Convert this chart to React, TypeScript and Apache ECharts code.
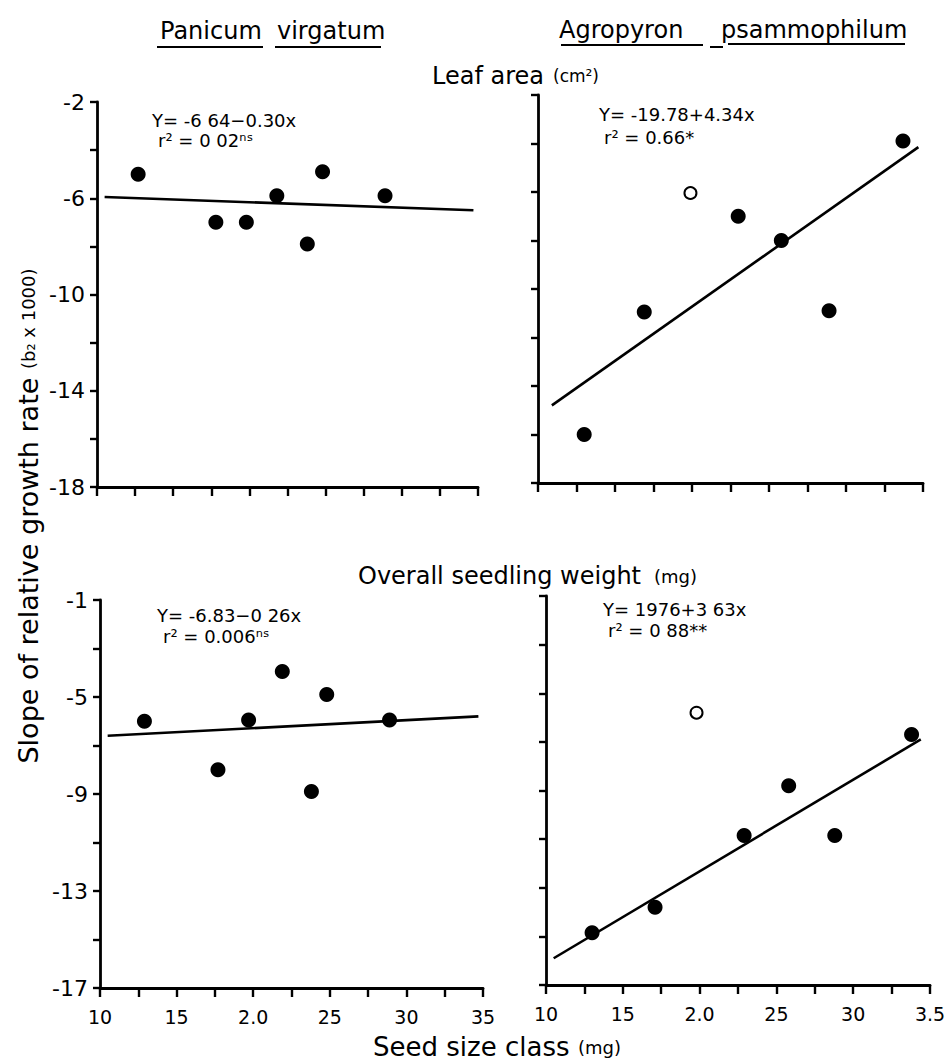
import React, { useEffect, useRef } from "react";
import * as echarts from "echarts";

// ---- axis ticks / labels ----
const xTickValues = [1.0, 1.25, 1.5, 1.75, 2.0, 2.25, 2.5, 2.75, 3.0, 3.25, 3.5];
const xLabelValues = [1.0, 1.5, 2.0, 2.5, 3.0, 3.5];
const xLabelsLeft = ["10", "15", "2.0", "25", "30", "35"];
const xLabelsRight = ["10", "15", "2.0", "25", "30", "3.5"];

const yTicksLeaf = [-18, -16, -14, -12, -10, -8, -6, -4, -2];
const yLabelValuesLeaf = [-18, -14, -10, -6, -2];
const yLabelsLeaf = ["-18", "-14", "-10", "-6", "-2"];

const yTicksWeight = [-17, -15, -13, -11, -9, -7, -5, -3, -1];
const yLabelValuesWeight = [-17, -13, -9, -5, -1];
const yLabelsWeight = ["-17", "-13", "-9", "-5", "-1"];

// ---- Panicum virgatum, leaf area ----
const panLeafX = [1.27, 1.78, 1.98, 2.18, 2.38, 2.48, 2.89];
const panLeafY = [-5.0, -7.0, -7.0, -5.9, -7.9, -4.9, -5.9];
const panLeafFitX = [1.05, 3.47];
const panLeafFitY = [-5.95, -6.5];

// ---- Agropyron psammophilum, leaf area ----
const agrLeafX = [1.3, 1.69, 2.3, 2.58, 2.89, 3.37];
const agrLeafY = [-16.0, -10.95, -7.0, -8.0, -10.9, -3.9];
const agrLeafOpenX = [1.99];
const agrLeafOpenY = [-6.04];
const agrLeafFitX = [1.09, 3.47];
const agrLeafFitY = [-14.8, -4.15];

// ---- Panicum virgatum, seedling weight ----
const panWtX = [1.29, 1.77, 1.97, 2.19, 2.38, 2.48, 2.89];
const panWtY = [-6.0, -8.0, -5.95, -3.95, -8.9, -4.9, -5.95];
const panWtFitX = [1.05, 3.47];
const panWtFitY = [-6.6, -5.8];

// ---- Agropyron psammophilum, seedling weight ----
const agrWtX = [1.3, 1.71, 2.29, 2.58, 2.88, 3.38];
const agrWtY = [-14.85, -13.8, -10.85, -8.8, -10.85, -6.7];
const agrWtOpenX = [1.98];
const agrWtOpenY = [-5.8];
const agrWtFitX = [1.05, 3.44];
const agrWtFitY = [-15.9, -6.9];

const FONT = '"DejaVu Sans", "Liberation Sans", Arial, sans-serif';

const zip = (xs: number[], ys: number[]) => xs.map((x, i) => [x, ys[i]]);

export default function App() {
  const ref = useRef<HTMLDivElement>(null);

  useEffect(() => {
    if (!ref.current) return;
    const chart = echarts.init(ref.current, undefined, { renderer: "svg" });

    const grids = [
      { left: 97, top: 102, width: 381, height: 385 },
      { left: 538, top: 95, width: 385, height: 388 },
      { left: 100, top: 600, width: 383, height: 388 },
      { left: 546, top: 596, width: 384, height: 389 },
    ];

    const axisLine = { show: true, lineStyle: { color: "#000", width: 2.8 } };

    const xAxes = grids.map((_, i) => {
      const labels = i % 2 === 0 ? xLabelsLeft : xLabelsRight;
      return {
        type: "value",
        gridIndex: i,
        min: 1.0,
        max: 3.5,
        axisLine,
        axisTick: {
          show: true,
          customValues: xTickValues,
          length: 9,
          lineStyle: { color: "#000", width: 2.4 },
        },
        axisLabel: {
          show: i >= 2,
          customValues: xLabelValues,
          formatter: (v: number) => {
            const k = xLabelValues.findIndex((t) => Math.abs(t - v) < 1e-6);
            return k >= 0 ? labels[k] : "";
          },
          color: "#000",
          fontSize: 19,
          fontFamily: FONT,
          margin: 19,
        },
        splitLine: { show: false },
      };
    });

    const yAxes = grids.map((_, i) => {
      const leaf = i < 2;
      const ticks = leaf ? yTicksLeaf : yTicksWeight;
      const lv = leaf ? yLabelValuesLeaf : yLabelValuesWeight;
      const ls = leaf ? yLabelsLeaf : yLabelsWeight;
      return {
        type: "value",
        gridIndex: i,
        min: leaf ? -18 : -17,
        max: leaf ? -2 : -1,
        axisLine,
        axisTick: {
          show: true,
          customValues: ticks,
          length: 7,
          lineStyle: { color: "#000", width: 2.4 },
        },
        axisLabel: {
          show: i % 2 === 0,
          customValues: lv,
          formatter: (v: number) => {
            const k = lv.findIndex((t) => Math.abs(t - v) < 1e-6);
            return k >= 0 ? ls[k] : "";
          },
          color: "#000",
          fontSize: 22,
          fontFamily: FONT,
          margin: 12,
        },
        splitLine: { show: false },
      };
    });

    const filled = (i: number, xs: number[], ys: number[]) => ({
      type: "scatter",
      xAxisIndex: i,
      yAxisIndex: i,
      data: zip(xs, ys),
      symbol: "circle",
      symbolSize: 15,
      itemStyle: { color: "#000", opacity: 1 },
      z: 3,
    });
    const open = (i: number, xs: number[], ys: number[]) => ({
      type: "scatter",
      xAxisIndex: i,
      yAxisIndex: i,
      data: zip(xs, ys),
      symbol: "circle",
      symbolSize: 12,
      itemStyle: { color: "#fff", borderColor: "#000", borderWidth: 2, opacity: 1 },
      z: 3,
    });
    const fit = (i: number, xs: number[], ys: number[]) => ({
      type: "line",
      xAxisIndex: i,
      yAxisIndex: i,
      data: zip(xs, ys),
      showSymbol: false,
      symbol: "none",
      lineStyle: { color: "#000", width: 2.6 },
      z: 2,
    });

    const txt = (
      text: string,
      x: number,
      y: number,
      size: number,
      align: string = "left"
    ) => ({
      type: "text",
      x,
      y,
      style: {
        text,
        font: `${size}px ${FONT}`,
        fill: "#000",
        textAlign: align,
        align,
        textVerticalAlign: "middle",
        verticalAlign: "middle",
      },
    });
    const ln = (x1: number, y1: number, x2: number, y2: number, w = 2) => ({
      type: "line",
      shape: { x1, y1, x2, y2 },
      style: { stroke: "#000", lineWidth: w },
    });

    const graphic = [
      // species titles
      txt("Panicum", 160, 31, 24),
      txt("virgatum", 277, 31, 24),
      ln(157, 47, 263, 47),
      ln(275, 47, 381, 47),
      txt("Agropyron", 559, 30, 24),
      txt("psammophilum", 721, 30, 24),
      ln(561, 45, 703, 45),
      ln(710, 47, 723, 47),
      ln(728, 44, 905, 44),
      // panel headings
      txt("Leaf area", 432, 76, 24),
      txt("(cm²)", 553, 76, 17),
      txt("Overall seedling weight", 358, 576, 24),
      txt("(mg)", 654, 576, 18),
      // x axis title
      txt("Seed size class", 373, 1047, 26),
      txt("(mg)", 578, 1047, 18),
      // y axis title (rotated)
      {
        type: "text",
        x: 28,
        y: 516,
        rotation: Math.PI / 2,
        style: {
          text: "{a|Slope of relative growth rate }{b|(b₂ x 1000)}",
          rich: {
            a: { font: `27px ${FONT}`, fill: "#000" },
            b: { font: `18px ${FONT}`, fill: "#000" },
          },
          textAlign: "center",
          align: "center",
          textVerticalAlign: "middle",
          verticalAlign: "middle",
        },
      },
      // regression equations
      txt("Y= -6 64−0.30x", 152, 120, 18),
      txt("r² = 0 02ⁿˢ", 158, 140, 18),
      txt("Y= -19.78+4.34x", 599, 114, 18),
      txt("r² = 0.66*", 604, 137, 18),
      txt("Y= -6.83−0 26x", 157, 615, 18),
      txt("r² = 0.006ⁿˢ", 163, 636, 18),
      txt("Y= 1976+3 63x", 603, 609, 18),
      txt("r² = 0 88**", 608, 630, 18),
    ];

    chart.setOption({
      animation: false,
      backgroundColor: "#fff",
      grid: grids.map((g) => ({ ...g, containLabel: false })),
      xAxis: xAxes,
      yAxis: yAxes,
      series: [
        fit(0, panLeafFitX, panLeafFitY),
        filled(0, panLeafX, panLeafY),
        fit(1, agrLeafFitX, agrLeafFitY),
        filled(1, agrLeafX, agrLeafY),
        open(1, agrLeafOpenX, agrLeafOpenY),
        fit(2, panWtFitX, panWtFitY),
        filled(2, panWtX, panWtY),
        fit(3, agrWtFitX, agrWtFitY),
        filled(3, agrWtX, agrWtY),
        open(3, agrWtOpenX, agrWtOpenY),
      ],
      graphic,
    });

    return () => chart.dispose();
  }, []);

  return (
    <div
      ref={ref}
      style={{ position: "absolute", left: 0, top: 0, width: 952, height: 1063, background: "#fff" }}
    />
  );
}
